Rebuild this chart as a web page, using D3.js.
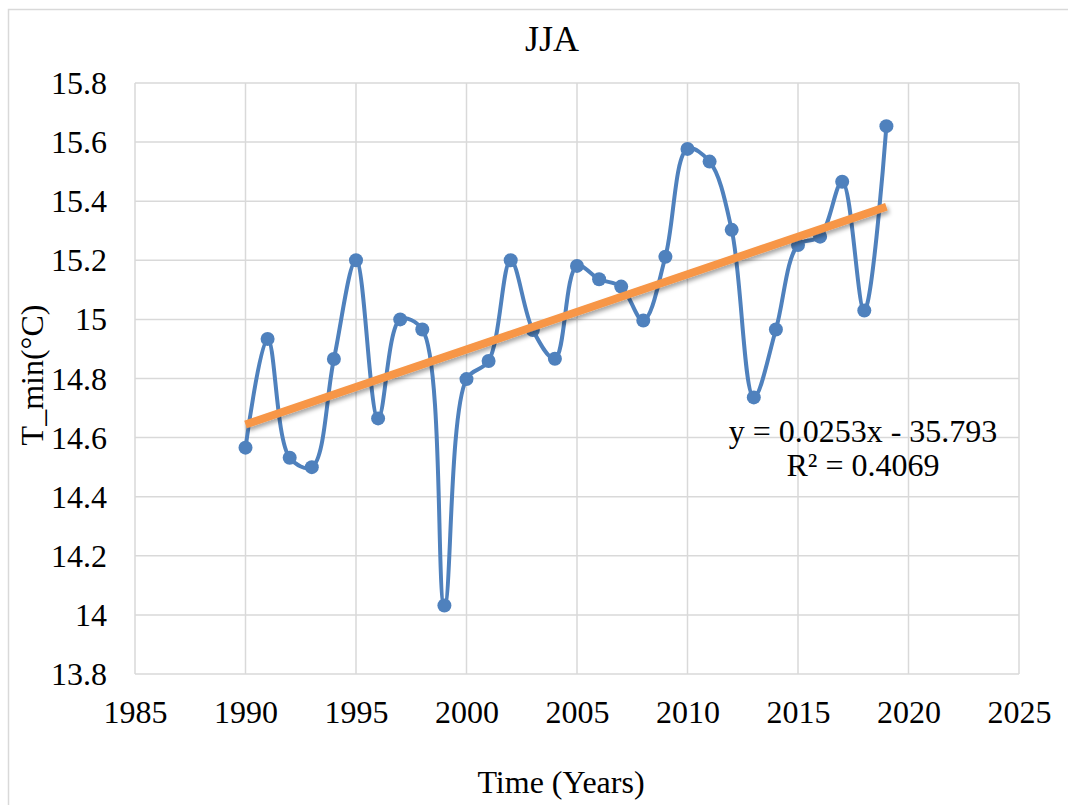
<!DOCTYPE html>
<html>
<head>
<meta charset="utf-8">
<script src="https://cdn.jsdelivr.net/npm/d3@7"></script>
<style>
  body { margin: 0; background: #fff; }
  svg { font-family: "Liberation Serif", "Times New Roman", serif; }
  .grid line { stroke: #d9d9d9; stroke-width: 1.5; }
  .axis text { font-size: 32px; fill: #000; }
</style>
</head>
<body>
<svg width="1068" height="805"></svg>
<script>
// data
const years = [1990, 1991, 1992, 1993, 1994, 1995, 1996, 1997, 1998, 1999,
  2000, 2001, 2002, 2003, 2004, 2005, 2006, 2007, 2008, 2009,
  2010, 2011, 2012, 2013, 2014, 2015, 2016, 2017, 2018, 2019];
const tmin = [14.566, 14.934, 14.532, 14.500, 14.866, 15.200, 14.665, 15.000, 14.966, 14.032,
  14.798, 14.859, 15.200, 14.964, 14.867, 15.181, 15.136, 15.111, 14.996, 15.212,
  15.577, 15.534, 15.303, 14.736, 14.966, 15.252, 15.280, 15.466, 15.030, 15.654];
const xTicks = [1985, 1990, 1995, 2000, 2005, 2010, 2015, 2020, 2025];
const yTicks = [13.8, 14, 14.2, 14.4, 14.6, 14.8, 15, 15.2, 15.4, 15.6, 15.8];
const title = "JJA";
const eqLines = ["y = 0.0253x - 35.793", "R² = 0.4069"];

const data = years.map((y, i) => ({ year: y, value: tmin[i] }));

const svg = d3.select("svg");
const plot = { left: 135, right: 1019, top: 83, bottom: 674 };

// outer chart border
svg.append("rect")
  .attr("x", 8.5).attr("y", 9.5)
  .attr("width", 1100).attr("height", 900)
  .attr("fill", "none").attr("stroke", "#d9d9d9").attr("stroke-width", 1.5);

let xScale = d3.scaleLinear().domain([1985, 2025]).range([plot.left, plot.right]);
let yScale = d3.scaleLinear().domain([13.8, 15.8]).range([plot.bottom, plot.top]);

// grid
let grid = svg.append("g").attr("class", "grid");
grid.selectAll(".v").data(xTicks).enter().append("line")
  .attr("x1", (d) => xScale(d)).attr("x2", (d) => xScale(d))
  .attr("y1", plot.top).attr("y2", plot.bottom);
grid.selectAll(".h").data(yTicks).enter().append("line")
  .attr("x1", plot.left).attr("x2", plot.right)
  .attr("y1", (d) => yScale(d)).attr("y2", (d) => yScale(d));

// axes (labels only, lines are drawn by the grid)
let xAxis = svg.append("g")
  .attr("class", "axis")
  .attr("transform", `translate(0,${plot.bottom})`)
  .call(d3.axisBottom(xScale).tickValues(xTicks).tickFormat(d3.format("d")).tickSize(0).tickPadding(28));
let yAxis = svg.append("g")
  .attr("class", "axis")
  .attr("transform", `translate(${plot.left},0)`)
  .call(d3.axisLeft(yScale).tickValues(yTicks).tickFormat((d) => String(+d.toFixed(1))).tickSize(0).tickPadding(28));
svg.selectAll(".axis .domain").remove();
svg.selectAll(".axis").attr("font-family", null).attr("font-size", null);
xAxis.selectAll("text").attr("dy", "0.66em");
yAxis.selectAll("text").attr("dy", "0.33em");

// trend line from least squares fit
let mx = d3.mean(years), my = d3.mean(tmin);
let slope = d3.sum(data, (d) => (d.year - mx) * (d.value - my)) / d3.sum(data, (d) => (d.year - mx) ** 2);
let icpt = my - slope * mx;
let ends = d3.extent(years);

// smoothed series
let line = d3.line()
  .x((d) => xScale(d.year))
  .y((d) => yScale(d.value))
  .curve(d3.curveCatmullRom.alpha(0.5));

let defs = svg.append("defs");
let shadow = defs.append("filter").attr("id", "shadow")
  .attr("x", "-10%").attr("y", "-50%").attr("width", "120%").attr("height", "200%");
shadow.append("feDropShadow")
  .attr("dx", 2).attr("dy", 3).attr("stdDeviation", 2)
  .attr("flood-color", "#000").attr("flood-opacity", 0.35);

let fig = svg.append("g");
fig.append("path").datum(data)
  .attr("d", line)
  .attr("fill", "none").attr("stroke", "#4f81bd").attr("stroke-width", 4);
fig.selectAll("circle").data(data).enter().append("circle")
  .attr("cx", (d) => xScale(d.year)).attr("cy", (d) => yScale(d.value))
  .attr("r", 7).attr("fill", "#4f81bd");

fig.append("line")
  .attr("x1", xScale(ends[0])).attr("y1", yScale(slope * ends[0] + icpt))
  .attr("x2", xScale(ends[1])).attr("y2", yScale(slope * ends[1] + icpt))
  .attr("stroke", "#f79646").attr("stroke-width", 8)
  .attr("filter", "url(#shadow)");

// equation label
svg.append("g").selectAll("text").data(eqLines).enter().append("text")
  .attr("x", 863).attr("y", (d, i) => 442 + i * 34)
  .attr("text-anchor", "middle").attr("font-size", 32)
  .text((d) => d);

// titles
svg.append("text").attr("x", 552).attr("y", 51)
  .attr("text-anchor", "middle").attr("font-size", 36).text(title);
svg.append("text").attr("x", 561).attr("y", 793)
  .attr("text-anchor", "middle").attr("font-size", 32).text("Time (Years)");
svg.append("text")
  .attr("transform", "translate(43,375) rotate(-90)")
  .attr("text-anchor", "middle").attr("font-size", 32).text("T_min(°C)");
</script>
</body>
</html>
